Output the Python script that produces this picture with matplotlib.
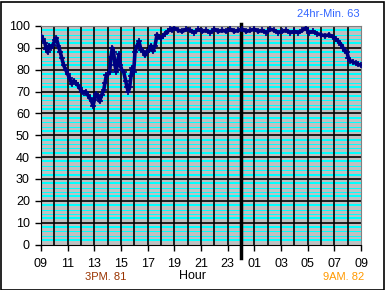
import matplotlib.pyplot as plt
from matplotlib.patches import Rectangle

# hours after 09:00 and humidity readings
HOURS = [0.0, 0.15, 0.3, 0.4, 0.5, 0.6, 0.75, 0.9, 1.05, 1.15, 1.3, 1.45, 1.55, 1.7, 1.85,
         2.0, 2.15, 2.3, 2.45, 2.6, 2.75, 2.9, 3.05, 3.2, 3.35, 3.5, 3.65, 3.8, 3.9, 4.0,
         4.1, 4.25, 4.4, 4.55, 4.7, 4.8, 4.9, 5.05, 5.15, 5.25, 5.35, 5.45, 5.55, 5.65, 5.75,
         5.85, 5.95, 6.05, 6.2, 6.35, 6.45, 6.55, 6.65, 6.75, 6.85, 6.95, 7.05, 7.2, 7.35, 7.5,
         7.65, 7.8, 7.95, 8.1, 8.25, 8.4, 8.55, 8.7, 8.85, 9.0, 9.15, 9.3, 9.5, 9.7, 9.85,
         10.0, 10.3, 10.6, 10.9, 11.2, 11.5, 11.8, 12.1, 12.4, 12.7, 13.0, 13.3, 13.6, 13.9,
         14.2, 14.5, 14.8, 15.1, 15.4, 15.7, 16.0, 16.3, 16.6, 16.9, 17.2, 17.5, 17.8, 18.1,
         18.4, 18.7, 19.0, 19.3, 19.6, 19.85, 20.1, 20.4, 20.7, 21.0, 21.3, 21.6, 21.9, 22.1,
         22.3, 22.5, 22.65, 22.8, 22.95, 23.05, 23.2, 23.4, 23.6, 23.8, 24.0]
HUMIDITY = [95.5, 94, 92, 89.5, 88, 91, 90, 91.5, 93.5, 94.5, 91, 88, 85.5, 82, 80,
            78, 76, 73.5, 75, 74, 73, 71.5, 70, 69.5, 70, 68.5, 67, 65.5, 63.5, 66,
            69, 68, 65.5, 68.5, 70.5, 74, 77.5, 78, 79, 86, 90, 88, 82, 79, 84,
            87, 82, 80, 79, 75, 72, 70, 72, 77, 81, 79, 88, 91, 93, 89,
            88.5, 86.5, 88, 89, 91, 88.5, 91, 96, 95, 94.5, 95.5, 96.5, 97.5, 98.5, 98,
            99, 98, 97.5, 98.5, 98, 97, 98.5, 97.5, 98, 97, 98.5, 97.5, 98, 97.5,
            98.5, 97.5, 98, 98.5, 97.5, 98, 98.5, 97.5, 98, 97, 98.5, 98, 97, 97.5,
            98, 97, 97.5, 97, 98, 99, 97, 97.5, 96.5, 96, 95.5, 96, 95, 94,
            93, 91.5, 90, 88.5, 88, 85.5, 84, 83.5, 83, 82.5, 82]

TICK_POS = list(range(0, 25, 2))
TICK_LABELS = ['09', '11', '13', '15', '17', '19', '21', '23', '01', '03', '05', '07', '09']

plt.rcParams['font.family'] = ['Liberation Sans', 'DejaVu Sans']

fig = plt.figure(figsize=(3.85, 2.9), dpi=100)
ax = fig.add_axes([41 / 385, 1 - 244.5 / 290, 320 / 385, 218.5 / 290])
ax.set_facecolor('#c0c0c0')

# grid: cyan minor lines every 2, black major every 10, black vertical every hour
for v in range(2, 100, 2):
    if v % 10:
        w = 1.44 if v % 10 in (2, 8) else 0.72
        ax.axhline(v, color='#00ffff', lw=w, antialiased=False, zorder=1)
for v in range(10, 100, 10):
    ax.axhline(v, color='black', lw=1.2, zorder=1.5)
for h in range(1, 24):
    ax.axvline(h, color='black', lw=1.2, zorder=1.5)

ax.axvline(15, ymin=-0.063, ymax=1.01, color='black', lw=2.5, clip_on=False, zorder=3)

ax.plot(HOURS, HUMIDITY, color='#000080', lw=2.6, marker='+', ms=5, mew=1.2, zorder=4)

ax.set_xlim(0, 24)
ax.set_ylim(0, 100)
ax.set_xticks(TICK_POS)
ax.set_xticklabels(TICK_LABELS)
ax.set_yticks(range(0, 101, 10))
ax.tick_params(direction='out', length=4, width=1, labelsize=9, colors='black')
ax.tick_params(axis='x', pad=6)
ax.tick_params(axis='y', pad=4)
for s in ax.spines.values():
    s.set_color('#808080')
ax.spines['left'].set_color('black')
ax.spines['bottom'].set_color('black')

fig.text(328 / 385, 1 - 14 / 290, '24hr-Min. 63', color='#3366ff', fontsize=8, ha='center', va='center')
fig.text(106 / 385, 1 - 277 / 290, '3PM. 81', color='#993300', fontsize=8, ha='center', va='center')
fig.text(193 / 385, 1 - 276 / 290, 'Hour', color='black', fontsize=9, ha='center', va='center')
fig.text(344 / 385, 1 - 277 / 290, '9AM. 82', color='#ff9900', fontsize=8, ha='center', va='center')

fig.patches.append(Rectangle((0.5 / 385, 0.5 / 290), 383 / 385, 288 / 290, transform=fig.transFigure,
                             fill=False, edgecolor='black', lw=1.2))

fig.savefig('out.png', dpi=100)
